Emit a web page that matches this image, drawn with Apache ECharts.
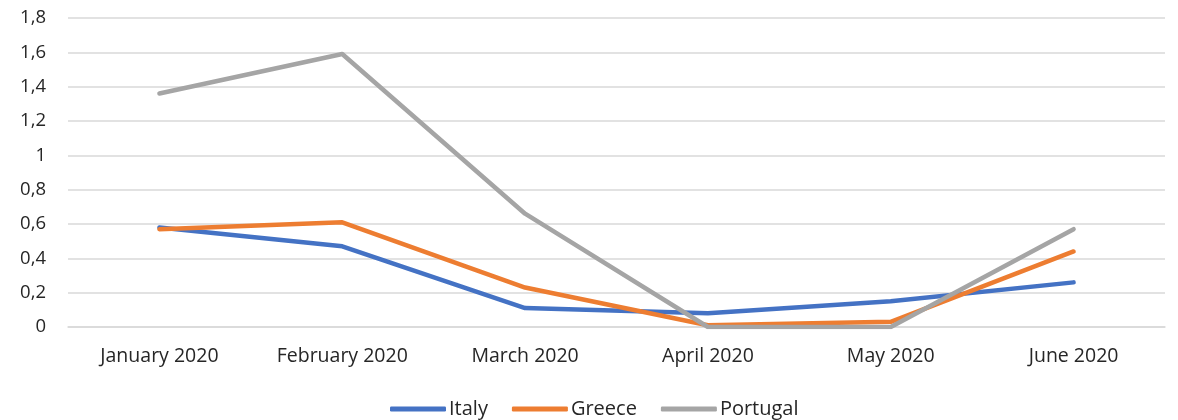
<!DOCTYPE html>
<html>
<head>
<meta charset="utf-8">
<script src="https://cdn.jsdelivr.net/npm/echarts@6/dist/echarts.min.js"></script>
<style>
  html, body { margin: 0; padding: 0; background: #fff; }
  #chart { width: 1178px; height: 420px; }
</style>
</head>
<body>
<div id="chart"></div>
<script>
// Monthly values, January–June 2020
const months = ['January 2020', 'February 2020', 'March 2020', 'April 2020', 'May 2020', 'June 2020'];
const italy = [0.58, 0.47, 0.11, 0.08, 0.15, 0.26];
const greece = [0.57, 0.61, 0.23, 0.01, 0.03, 0.44];
const portugal = [1.36, 1.59, 0.66, 0, 0, 0.57];

const FONT = '"Open Sans", "Noto Sans", sans-serif';
const TEXT = '#262626';

function line(name, data, color) {
  return {
    name: name,
    type: 'line',
    data: data,
    showSymbol: false,
    symbol: 'none',
    lineStyle: { color: color, width: 4.5, cap: 'round', join: 'round' },
    itemStyle: { color: color }
  };
}

const chart = echarts.init(document.getElementById('chart'));
chart.setOption({
  animation: false,
  grid: { left: 68, right: 13, top: 18, bottom: 93 },
  xAxis: {
    type: 'category',
    data: months,
    boundaryGap: true,
    axisLine: { show: true, lineStyle: { color: '#d9d9d9', width: 1.5 } },
    axisTick: { show: false },
    axisLabel: { color: TEXT, fontFamily: FONT, fontSize: 19.5, margin: 19 }
  },
  yAxis: {
    type: 'value',
    min: 0,
    max: 1.8,
    interval: 0.2,
    axisLine: { show: false },
    axisTick: { show: false },
    splitLine: { lineStyle: { color: '#d9d9d9', width: 1.5 } },
    axisLabel: {
      color: TEXT, fontFamily: FONT, fontSize: 18.5, margin: 22,
      formatter: v => String(Math.round(v * 10) / 10).replace('.', ',')
    }
  },
  legend: {
    top: 399,
    left: 390,
    icon: 'roundRect',
    itemWidth: 56,
    itemHeight: 5,
    itemGap: 24,
    padding: 0,
    textStyle: { color: TEXT, fontFamily: FONT, fontSize: 20, padding: [0, 0, 0, -2] },
    data: ['Italy', 'Greece', 'Portugal']
  },
  series: [
    line('Italy', italy, '#4472C4'),
    line('Greece', greece, '#ED7D31'),
    line('Portugal', portugal, '#A5A5A5')
  ]
});
</script>
</body>
</html>
